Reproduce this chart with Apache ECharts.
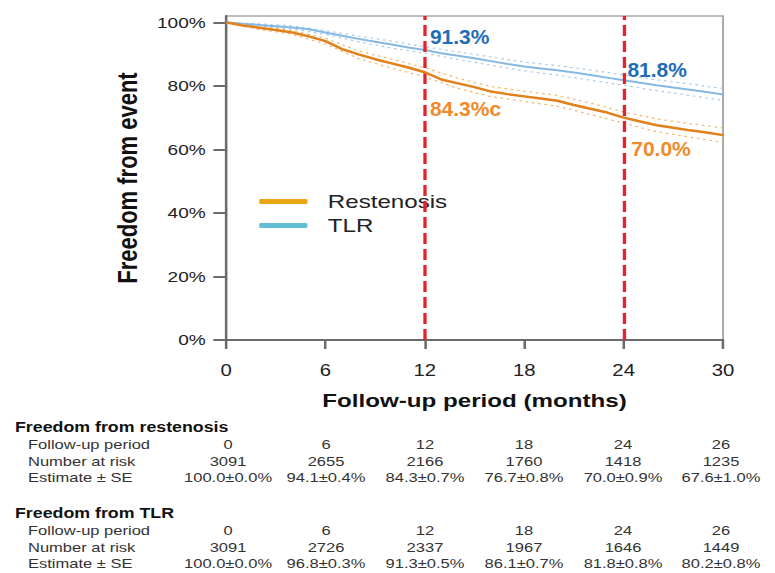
<!DOCTYPE html>
<html><head><meta charset="utf-8">
<script src="https://cdn.jsdelivr.net/npm/echarts@6/dist/echarts.min.js"></script>
<style>
html,body{margin:0;padding:0;background:#fff;overflow:hidden;}
#c{width:610px;height:573px;transform:scaleX(1.270492);transform-origin:0 0;}
</style>
</head><body><div id="c"></div>
<script>
// ---- data ----
const months = [0,1,2,3,4,5,6,7,8,9,10,11,12,13,14,15,16,17,18,19,20,21,22,23,24,25,26,27,28,29,30];
const restenosis = [100,99.0,98.3,97.6,96.8,95.6,94.1,91.6,89.9,88.4,87.1,85.8,84.3,82.0,80.8,79.6,78.2,77.4,76.7,76.0,75.3,74.0,72.8,71.6,70.0,68.8,67.6,66.8,66.0,65.3,64.5];
const tlr = [100,99.6,99.2,98.8,98.4,97.8,96.8,95.8,94.8,93.9,93.0,92.1,91.3,90.3,89.5,88.7,87.8,86.9,86.1,85.5,84.9,84.2,83.4,82.6,81.8,81.0,80.2,79.5,78.8,78.1,77.3];
const ciMonths = [0,2,4,6,8,10,12,14,16,18,20,22,24,26,28,30];
const restenosisUpper = [100,98.8,97.4,95.0,91.0,88.4,85.7,82.4,79.8,78.3,77.0,74.6,71.8,69.6,68.1,66.8];
const restenosisLower = [100,97.8,96.2,93.2,88.6,85.6,82.9,79.2,76.6,75.1,73.6,71.0,68.2,65.6,63.9,62.2];
const tlrUpper = [100,99.5,98.9,97.4,95.7,94.1,92.3,90.7,89.1,87.5,86.4,85.0,83.4,81.9,80.6,79.2];
const tlrLower = [100,98.9,97.9,96.2,93.9,91.9,90.3,88.3,86.5,84.7,83.4,81.8,80.2,78.5,77.0,75.4];
const markerMonths = [12, 24];
const annMonths = [12, 12, 24, 24];
const annValues = [91.3, 84.3, 81.8, 70.0];
const annTexts = ['91.3%', '84.3%c', '81.8%', '70.0%'];
const xTicks = [0, 6, 12, 18, 24, 30];
const yTicks = [0, 20, 40, 60, 80, 100];
const tableFollowUp = ['0','6','12','18','24','26'];
const restenosisAtRisk = ['3091','2655','2166','1760','1418','1235'];
const restenosisEstimate = ['100.0±0.0%','94.1±0.4%','84.3±0.7%','76.7±0.8%','70.0±0.9%','67.6±1.0%'];
const tlrAtRisk = ['3091','2726','2337','1967','1646','1449'];
const tlrEstimate = ['100.0±0.0%','96.8±0.3%','91.3±0.5%','86.1±0.7%','81.8±0.8%','80.2±0.8%'];

// ---- layout / style ----
const S = 775 / 610;
const FONT = '"Liberation Sans", Arial, sans-serif';
const C_RES = '#e2801c', C_TLR = '#86b9e2';
const pairs = (xs, ys) => xs.map((x, i) => [x, ys[i]]);

const chart = echarts.init(document.getElementById('c'), null, {renderer: 'svg'});
const ciSeries = (name, ys, color) => ({
  name, type: 'line', data: pairs(ciMonths, ys), symbol: 'none', silent: true,
  lineStyle: {color, width: 1.2, type: [2, 3]}, z: 2
});
chart.setOption({
  animation: false,
  textStyle: {fontFamily: FONT},
  grid: {left: 177.9, right: 40.9, top: 16, bottom: 233, show: true, borderColor: '#a8a8a8', borderWidth: 1.5},
  legend: {
    data: [{name: 'Restenosis', itemStyle: {color: '#e8a617'}}, {name: 'TLR', itemStyle: {color: '#5fc0d5'}}],
    icon: 'roundRect', orient: 'vertical', left: 199, top: 187, itemWidth: 38, itemHeight: 5, itemGap: 5,
    textStyle: {fontSize: 19, color: '#222', padding: [0, 0, 0, 11], fontFamily: FONT}
  },
  xAxis: {
    type: 'value', min: 0, max: 30, interval: 6,
    axisLine: {show: true, lineStyle: {color: '#6b6b6b', width: 2}},
    axisTick: {show: true, length: 9, lineStyle: {color: '#6b6b6b', width: 2}},
    axisLabel: {fontSize: 16, color: '#222', margin: 22, customValues: xTicks},
    splitLine: {show: false},
    name: 'Follow-up period (months)', nameLocation: 'middle', nameGap: 51,
    nameTextStyle: {fontSize: 19, fontWeight: 'bold', color: '#111'}
  },
  yAxis: {
    type: 'value', min: 0, max: 102,
    axisLine: {show: true, lineStyle: {color: '#6b6b6b', width: 2}},
    axisTick: {show: true, length: 10, customValues: yTicks, lineStyle: {color: '#6b6b6b', width: 2}},
    axisLabel: {fontSize: 15, color: '#222', margin: 16, customValues: yTicks, formatter: '{value}%'},
    splitLine: {show: false},
    name: 'Freedom from event', nameLocation: 'middle', nameGap: 67,
    nameTextStyle: {fontSize: 22, fontWeight: 'bold', color: '#111'}
  },
  series: [
    ciSeries('resUp', restenosisUpper, '#f2b56e'),
    ciSeries('resLo', restenosisLower, '#f2b56e'),
    ciSeries('tlrUp', tlrUpper, '#a8c9ea'),
    ciSeries('tlrLo', tlrLower, '#a8c9ea'),
    {name: 'TLR', type: 'line', data: pairs(months, tlr), symbol: 'none', lineStyle: {color: C_TLR, width: 2}, itemStyle: {color: C_TLR}, z: 4},
    {name: 'Restenosis', type: 'line', data: pairs(months, restenosis), symbol: 'none', lineStyle: {color: C_RES, width: 2.5}, itemStyle: {color: C_RES}, z: 5,
     markLine: {silent: true, symbol: 'none', label: {show: false},
       lineStyle: {color: '#e8202a', width: 2.6, type: [11, 5]},
       data: markerMonths.map(m => ({xAxis: m}))}}
  ]
});

// annotations (text not stretched in reference -> counter-scale)
const annStyle = [
  {color: '#1f6db8', dx: 4, dy: -13},
  {color: '#ef8a2a', dx: 4, dy: 36},
  {color: '#1f6db8', dx: 3, dy: -11},
  {color: '#ef8a2a', dx: 6, dy: 31}
];
const graphics = annMonths.map((m, i) => {
  const p = chart.convertToPixel({gridIndex: 0}, [m, annValues[i]]);
  return {type: 'text', x: p[0] + annStyle[i].dx, y: p[1] + annStyle[i].dy, scaleX: 1 / S, z: 10,
    style: {text: annTexts[i], fill: annStyle[i].color, fontSize: 21, fontWeight: 'bold', fontFamily: FONT, align: 'left', verticalAlign: 'middle'}};
});

// table
const colX = [179.5, 256.6, 334.5, 412.4, 490.4, 567.5];
function block(title, y0, atRisk, est) {
  const rowsY = [y0 + 18, y0 + 34.5, y0 + 50.5];
  const out = [{type: 'text', x: 11.8, y: y0, style: {text: title, fill: '#111', fontSize: 14, fontWeight: 'bold', fontFamily: FONT, align: 'left', verticalAlign: 'middle'}}];
  const labels = ['Follow-up period', 'Number at risk', 'Estimate ± SE'];
  const rows = [tableFollowUp, atRisk, est];
  labels.forEach((l, r) => {
    out.push({type: 'text', x: 22, y: rowsY[r], style: {text: l, fill: '#333', fontSize: 13, fontFamily: FONT, align: 'left', verticalAlign: 'middle'}});
    rows[r].forEach((v, c) => out.push({type: 'text', x: colX[c], y: rowsY[r], style: {text: v, fill: '#333', fontSize: 13, fontFamily: FONT, align: 'center', verticalAlign: 'middle'}}));
  });
  return out;
}
graphics.push(...block('Freedom from restenosis', 427, restenosisAtRisk, restenosisEstimate));
graphics.push(...block('Freedom from TLR', 513, tlrAtRisk, tlrEstimate));
chart.setOption({graphic: graphics});
</script></body></html>
